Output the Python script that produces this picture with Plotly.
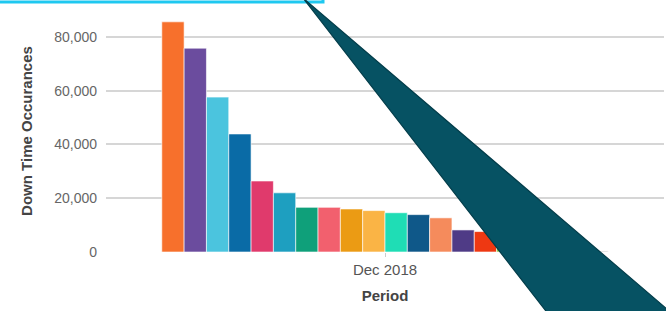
import plotly.graph_objects as go

# ---- data ----
category = ["Dec 2018"]
series_names = [f"Cause {i}" for i in range(1, 21)]
series_values = [85600, 75800, 57600, 43900, 26400, 22000, 16600, 16600, 16000, 15400,
                 14600, 13900, 12700, 8200, 7600, 6000, 4800, 3600, 1500, 400]
series_colors = ["#F7702C", "#6B4C9E", "#4BC4DE", "#0A6BA6", "#E03A6C", "#1E9FC0",
                 "#0FA07A", "#F2606E", "#EB9B14", "#FAB445", "#1FDDB5", "#0F5889",
                 "#F58B5C", "#4F3B86", "#EE3812", "#8CC63F", "#C2185B", "#7E57C2",
                 "#26A69A", "#D0D0D0"]
y_ticks = [0, 20000, 40000, 60000, 80000]

W, H = 666, 311
ML, MR, MT, MB = 106, 2, 10, 59

fig = go.Figure()
for name, val, col in zip(series_names, series_values, series_colors):
    fig.add_trace(go.Bar(x=category, y=[val], name=name, marker_color=col,
                         marker_line_width=0.6, marker_line_color="white"))

pw = W - ML - MR
ph = H - MT - MB


def px(x):
    return (x - ML) / pw


def py(y):
    return (H - MB - y) / ph


tri = f"M {px(303)},{py(-2)} L {px(549)},{py(315)} L {px(674)},{py(315)} Z"

fig.update_layout(
    width=W, height=H,
    margin=dict(l=ML, r=MR, t=MT, b=MB),
    paper_bgcolor="white", plot_bgcolor="white",
    barmode="group", bargap=0.2, bargroupgap=0,
    showlegend=False,
    font=dict(family="Liberation Sans, Arial, sans-serif", color="#666666", size=12),
    xaxis=dict(type="category", showgrid=False, ticks="outside", ticklen=4,
               tickcolor="#cccccc", showline=False, zeroline=False,
               tickfont=dict(size=15, color="#555555"),
               title=dict(text="<b>Period</b>", font=dict(size=15, color="#444444"), standoff=13)),
    yaxis=dict(range=[0, 90000], tickvals=y_ticks, tickformat=",", showgrid=True,
               gridcolor="#d6d6d6", gridwidth=1.5, zeroline=False, showline=False,
               ticks="", ticklabelstandoff=8,
               tickfont=dict(size=14, color="#666666"),
               title=dict(text="<b>Down Time Occurances</b>", font=dict(size=15, color="#444444"),
                          standoff=17)),
    shapes=[
        dict(type="rect", xref="paper", yref="paper",
             x0=px(-10), x1=px(323), y0=py(2), y1=py(-10),
             line=dict(color="#1EC8F0", width=3), fillcolor="rgba(0,0,0,0)", layer="above"),
        dict(type="path", xref="paper", yref="paper", path=tri,
             fillcolor="#065263", line=dict(color="#033d4a", width=1.2), layer="above"),
    ],
)

fig.write_html("out.html", config={"displayModeBar": False},
               post_script="document.body.style.margin='0';")
